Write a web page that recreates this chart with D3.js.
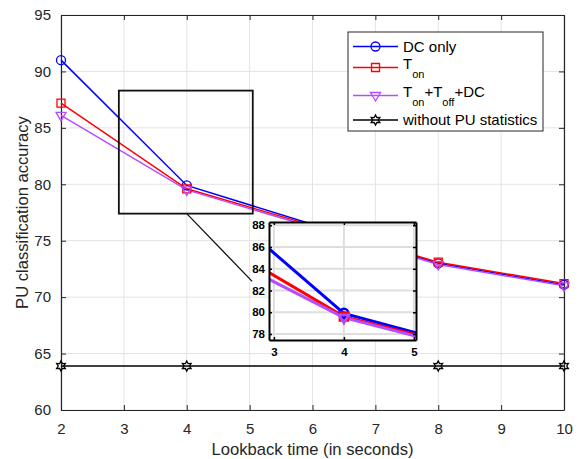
<!DOCTYPE html>
<html>
<head>
<meta charset="utf-8">
<script src="https://cdn.jsdelivr.net/npm/d3@7"></script>
<style>
  body { margin: 0; background: #fff; }
  text { font-family: "Liberation Sans", Arial, sans-serif; }
</style>
</head>
<body>
<div id="chart"></div>
<script>
// data
const lookback = [2, 4, 8, 10];
const dcOnly = [91.0, 79.9, 73.0, 71.1];
const tOn = [87.2, 79.6, 73.1, 71.2];
const tAll = [86.1, 79.5, 72.9, 71.0];
const noStats = [63.9, 63.9, 63.9, 63.9];
const xTicks = [2, 3, 4, 5, 6, 7, 8, 9, 10];
const yTicks = [60, 65, 70, 75, 80, 85, 90, 95];
const insetXTicks = [3, 4, 5];
const insetYTicks = [78, 80, 82, 84, 86, 88];

const series = [
  { name: "DC only", values: dcOnly, color: "#0000ff", marker: "circle" },
  { name: "T_on", values: tOn, color: "#ff0000", marker: "square" },
  { name: "T_on+T_off+DC", values: tAll, color: "#b44dff", marker: "triangle" },
  { name: "without PU statistics", values: noStats, color: "#000000", marker: "hexagram" }
];

const width = 581, height = 459;
const svg = d3.select("#chart").append("svg").attr("width", width).attr("height", height);

const x = d3.scaleLinear().domain([2, 10]).range([61, 564]);
const y = d3.scaleLinear().domain([60, 95]).range([410, 15]);

function markerPath(type, size) {
  const p = d3.path();
  if (type === "circle") {
    p.arc(0, 0, size, 0, 2 * Math.PI);
  } else if (type === "square") {
    p.rect(-size, -size, 2 * size, 2 * size);
  } else if (type === "triangle") {
    p.moveTo(-size, -size * 0.6);
    p.lineTo(size, -size * 0.6);
    p.lineTo(0, size * 1.1);
    p.closePath();
  } else if (type === "hexagram") {
    const r1 = size, r2 = size * 0.55;
    for (let i = 0; i < 12; i++) {
      const a = -Math.PI / 2 + i * Math.PI / 6;
      const r = i % 2 === 0 ? r1 : r2;
      if (i === 0) p.moveTo(r * Math.cos(a), r * Math.sin(a));
      else p.lineTo(r * Math.cos(a), r * Math.sin(a));
    }
    p.closePath();
  }
  return p.toString();
}
const markerSize = { circle: 4.5, square: 4, triangle: 5, hexagram: 5 };

// grid
const grid = svg.append("g");
grid.selectAll(".gx").data(xTicks).enter().append("line")
  .attr("x1", d => x(d)).attr("x2", d => x(d)).attr("y1", y(60)).attr("y2", y(95))
  .attr("stroke", "#e3e3e3").attr("stroke-width", 1);
grid.selectAll(".gy").data(yTicks).enter().append("line")
  .attr("y1", d => y(d)).attr("y2", d => y(d)).attr("x1", x(2)).attr("x2", x(10))
  .attr("stroke", "#e3e3e3").attr("stroke-width", 1);

// axes (ticks inward, boxed)
const axB = svg.append("g").attr("transform", `translate(0,${y(60)})`)
  .call(d3.axisBottom(x).tickValues(xTicks).tickSizeInner(-5).tickSizeOuter(0).tickPadding(13));
const axL = svg.append("g").attr("transform", `translate(${x(2)},0)`)
  .call(d3.axisLeft(y).tickValues(yTicks).tickSizeInner(-5).tickSizeOuter(0).tickPadding(10));
const axT = svg.append("g").attr("transform", `translate(0,${y(95)})`)
  .call(d3.axisTop(x).tickValues(xTicks).tickSizeInner(-5).tickSizeOuter(0).tickFormat(""));
const axR = svg.append("g").attr("transform", `translate(${x(10)},0)`)
  .call(d3.axisRight(y).tickValues(yTicks).tickSizeInner(-5).tickSizeOuter(0).tickFormat(""));
[axB, axL, axT, axR].forEach(a => {
  a.selectAll("path").attr("stroke", "#262626").attr("stroke-width", 1.2);
  a.selectAll("line").attr("stroke", "#262626");
  a.selectAll("text").attr("fill", "#262626").attr("font-size", "15px")
    .attr("font-family", "Liberation Sans, Arial, sans-serif");
});

// series
const line = d3.line().x((d, i) => x(lookback[i])).y(d => y(d));
series.forEach(s => {
  svg.append("path").datum(s.values).attr("d", line)
    .attr("fill", "none").attr("stroke", s.color).attr("stroke-width", 1.5);
});
series.forEach(s => {
  svg.selectAll(null).data(s.values).enter().append("path")
    .attr("transform", (d, i) => `translate(${x(lookback[i])},${y(d)})`)
    .attr("d", markerPath(s.marker, markerSize[s.marker]))
    .attr("fill", "none").attr("stroke", s.color).attr("stroke-width", 1.3);
});

// zoom rectangle and connector
const zoomX = [2.92, 5.05], zoomY = [77.4, 88.3];
svg.append("rect")
  .attr("x", x(zoomX[0])).attr("y", y(zoomY[1]))
  .attr("width", x(zoomX[1]) - x(zoomX[0])).attr("height", y(zoomY[0]) - y(zoomY[1]))
  .attr("fill", "none").attr("stroke", "#111").attr("stroke-width", 1.8);
svg.append("line")
  .attr("x1", x(4.0)).attr("y1", y(zoomY[0]))
  .attr("x2", x(5.04)).attr("y2", y(71.4))
  .attr("stroke", "#111").attr("stroke-width", 1.3);

// inset
const ix = d3.scaleLinear().domain([2.93, 5.03]).range([269, 416]);
const iy = d3.scaleLinear().domain([77.45, 88.3]).range([340, 222]);
const inset = svg.append("g");
inset.append("rect").attr("x", 269).attr("y", 222).attr("width", 147).attr("height", 118).attr("fill", "#fff");
svg.append("clipPath").attr("id", "insetClip").append("rect")
  .attr("x", 269).attr("y", 222).attr("width", 147).attr("height", 118);
inset.selectAll(".igx").data(insetXTicks).enter().append("line")
  .attr("x1", d => ix(d)).attr("x2", d => ix(d)).attr("y1", 222).attr("y2", 340)
  .attr("stroke", "#dedede").attr("stroke-width", 2);
inset.selectAll(".igy").data(insetYTicks).enter().append("line")
  .attr("y1", d => iy(d)).attr("y2", d => iy(d)).attr("x1", 269).attr("x2", 416)
  .attr("stroke", "#dedede").attr("stroke-width", 2);
const iline = d3.line().x((d, i) => ix(lookback[i])).y(d => iy(d));
const iplot = inset.append("g").attr("clip-path", "url(#insetClip)");
series.slice(0, 3).forEach(s => {
  iplot.append("path").datum(s.values).attr("d", iline)
    .attr("fill", "none").attr("stroke", s.color).attr("stroke-width", 3);
});
series.slice(0, 3).forEach(s => {
  iplot.selectAll(null).data(s.values).enter().append("path")
    .attr("transform", (d, i) => `translate(${ix(lookback[i])},${iy(d)})`)
    .attr("d", markerPath(s.marker, markerSize[s.marker]))
    .attr("fill", "none").attr("stroke", s.color).attr("stroke-width", 2.5);
});
const iB = inset.append("g").attr("transform", "translate(0,340)")
  .call(d3.axisBottom(ix).tickValues(insetXTicks).tickFormat(d3.format("d"))
    .tickSizeInner(-3).tickSizeOuter(0).tickPadding(8));
const iL = inset.append("g").attr("transform", "translate(269,0)")
  .call(d3.axisLeft(iy).tickValues(insetYTicks).tickFormat(d3.format("d"))
    .tickSizeInner(-3).tickSizeOuter(0).tickPadding(4));
const iT = inset.append("g").attr("transform", "translate(0,222)")
  .call(d3.axisTop(ix).tickValues(insetXTicks).tickSizeInner(-3).tickSizeOuter(0).tickFormat(""));
const iR = inset.append("g").attr("transform", "translate(416,0)")
  .call(d3.axisRight(iy).tickValues(insetYTicks).tickSizeInner(-3).tickSizeOuter(0).tickFormat(""));
[iB, iL, iT, iR].forEach(a => {
  a.selectAll("path").attr("stroke", "#000").attr("stroke-width", 2);
  a.selectAll("line").attr("stroke", "#000").attr("stroke-width", 1.5);
  a.selectAll("text").attr("fill", "#000").attr("font-size", "11.5px").attr("font-weight", "bold")
    .attr("font-family", "Liberation Sans, Arial, sans-serif");
});

// axis labels
svg.append("text").attr("x", (x(2) + x(10)) / 2).attr("y", 455).attr("text-anchor", "middle")
  .attr("font-size", "16.6px").attr("fill", "#262626").text("Lookback time (in seconds)");
svg.append("text").attr("transform", `translate(28,${(y(60) + y(95)) / 2}) rotate(-90)`)
  .attr("text-anchor", "middle").attr("font-size", "16.6px").attr("fill", "#262626")
  .text("PU classification accuracy");

// legend
const legend = svg.append("g");
legend.append("rect").attr("x", 348).attr("y", 32).attr("width", 195).attr("height", 99)
  .attr("fill", "#fff").attr("stroke", "#262626").attr("stroke-width", 1);
const legendY = [46.5, 67.5, 95.5, 120];
series.forEach((s, i) => {
  const g = legend.append("g").attr("transform", `translate(0,${legendY[i]})`);
  g.append("line").attr("x1", 353).attr("x2", 398).attr("stroke", s.color).attr("stroke-width", 1.5);
  g.append("path").attr("transform", "translate(375.5,0)")
    .attr("d", markerPath(s.marker, markerSize[s.marker])).attr("fill", "none")
    .attr("stroke", s.color).attr("stroke-width", 1.3);
  const t = g.append("text").attr("x", 403).attr("y", 5).attr("font-size", "15px").attr("fill", "#000");
  if (i === 1) {
    t.append("tspan").attr("dy", -4).text("T");
    t.append("tspan").attr("dy", 9).attr("font-size", "11px").text("on");
  } else if (i === 2) {
    t.append("tspan").attr("dy", -4).text("T");
    t.append("tspan").attr("dy", 9).attr("font-size", "11px").text("on");
    t.append("tspan").attr("dy", -9).text("+T");
    t.append("tspan").attr("dy", 9).attr("font-size", "11px").text("off");
    t.append("tspan").attr("dy", -9).text("+DC");
  } else {
    t.text(s.name);
  }
});
</script>
</body>
</html>
